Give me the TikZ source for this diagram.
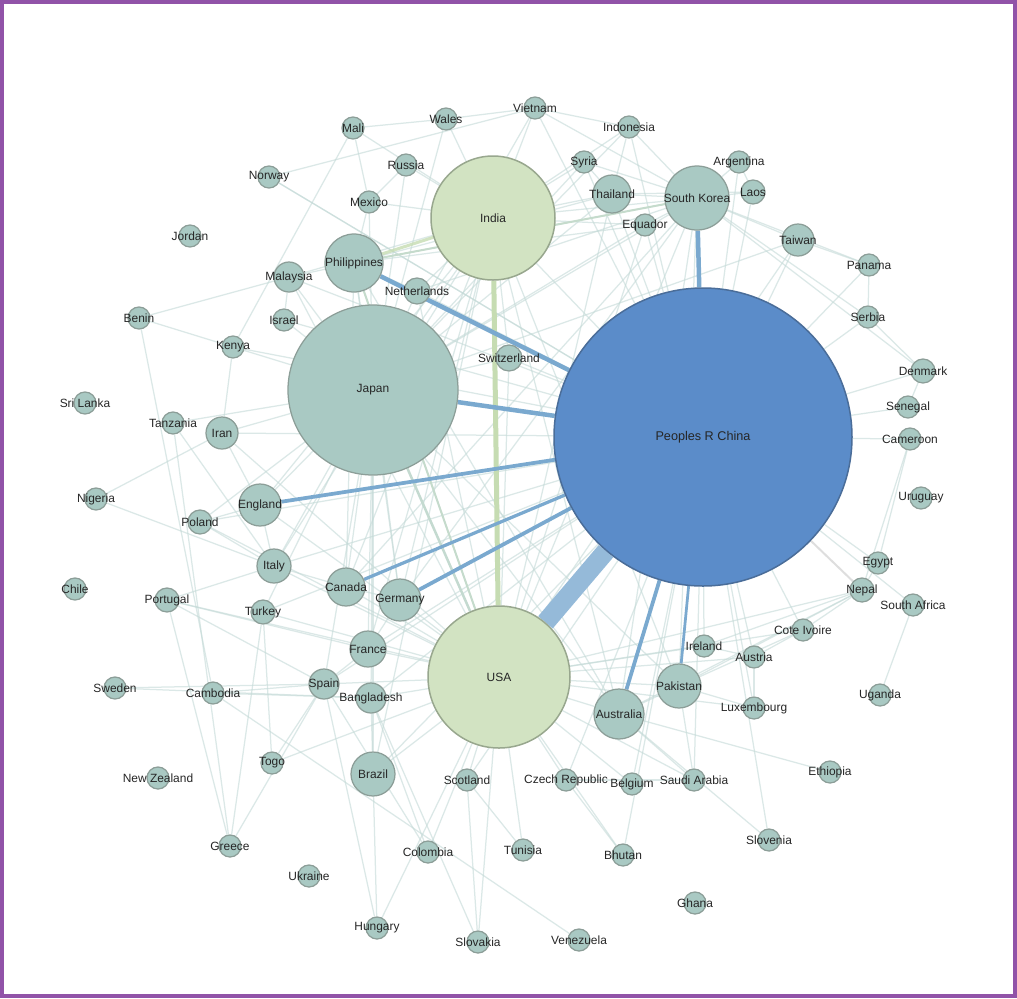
\documentclass[tikz,border=0pt]{standalone}
\usepackage{fontspec}
\setmainfont{Liberation Sans}
\definecolor{ndfill}{HTML}{A9C9C3}
\definecolor{ndline}{HTML}{8C9E98}
\definecolor{gnfill}{HTML}{D2E3C2}
\definecolor{gnline}{HTML}{98A78E}
\definecolor{cnfill}{HTML}{5B8CC9}
\definecolor{cnline}{HTML}{4A6D99}
\definecolor{edgec}{HTML}{C4DAD7}
\definecolor{blueedge}{HTML}{7AA9CF}
\definecolor{greenedge}{HTML}{C6DCB2}
\definecolor{frame}{HTML}{9153A8}
\pgfdeclarelayer{bg}
\pgfdeclarelayer{edges}
\pgfsetlayers{bg,edges,main}
\newcommand\cty[5][nd]{\node[#1=#5] (#2) at (#3) {};\node[lb] (#2-t) at (#2) {#4};}
\begin{document}
\begin{tikzpicture}[x=0.2mm,y=-0.2mm,
  nd/.style={circle,draw=ndline,fill=ndfill,line width=0.25mm,inner sep=0pt,minimum size={#1*0.4mm}},
  gn/.style={circle,draw=gnline,fill=gnfill,line width=0.3mm,inner sep=0pt,minimum size={#1*0.4mm}},
  cnn/.style={circle,draw=cnline,fill=cnfill,line width=0.3mm,inner sep=0pt,minimum size={#1*0.4mm}},
  lb/.style={inner sep=0pt,font=\fontsize{6.8}{7}\selectfont,text=black!85},
  e/.style={draw=edgec,line width=0.25mm,opacity=0.6},
  be/.style={draw=blueedge,line width=#1},
  ge/.style={draw=greenedge,line width=#1}]
\useasboundingbox (0,0) rectangle (1017,998);
\begin{pgfonlayer}{bg}
\fill[white] (0,0) rectangle (1017,998);
\draw[frame,line width=0.7mm] (2,2) rectangle (1015,996);
\end{pgfonlayer}
% nodes
\cty[cnn]{cn}{703,437}{\fontsize{7.2}{8}\selectfont Peoples R China}{149}
\cty{jp}{373,390}{Japan}{85}
\cty[gn]{usa}{499,677}{USA}{71}
\cty[gn]{ind}{493,218}{India}{62}
\cty{kr}{697,198}{South Korea}{32}
\cty{ph}{354,263}{Philippines}{29}
\cty{aus}{619,714}{Australia}{25}
\cty{pak}{679,686}{Pakistan}{22}
\cty{bra}{373,774}{Brazil}{22}
\cty{ger}{400,600}{Germany}{21}
\cty{can}{346,587}{Canada}{19}
\cty{fra}{368,649}{France}{18}
\cty{eng}{260,505}{England}{21}
\cty{ita}{274,566}{Italy}{17}
\cty{tur}{263,612}{Turkey}{12}
\cty{spa}{324,684}{Spain}{15}
\cty{ban}{371,698}{Bangladesh}{15}
\cty{cam}{213,693}{Cambodia}{11}
\cty{pol}{200,522}{Poland}{12}
\cty{tha}{612,194}{Thailand}{19}
\cty{iran}{222,433}{Iran}{16}
\cty{swi}{509,358}{Switzerland}{13}
\cty{net}{417,291}{Netherlands}{13}
\cty{mal}{289,277}{Malaysia}{15}
\cty{isr}{284,320}{Israel}{11}
\cty{tai}{798,240}{Taiwan}{16}
\cty{lao}{753,192}{Laos}{12}
\cty{arg}{739,162}{Argentina}{11}
\cty{pan}{869,265}{Panama}{11}
\cty{ser}{868,317}{Serbia}{11}
\cty{den}{923,371}{Denmark}{12}
\cty{sen}{908,407}{Senegal}{11}
\cty{came}{910,439}{Cameroon}{11}
\cty{uru}{921,498}{Uruguay}{11}
\cty{egy}{878,563}{Egypt}{11}
\cty{nep}{862,590}{Nepal}{12}
\cty{saf}{913,605}{South Africa}{11}
\cty{civ}{803,630}{Cote Ivoire}{11}
\cty{ire}{704,646}{Ireland}{11}
\cty{aut}{754,657}{Austria}{11}
\cty{lux}{754,708}{Luxembourg}{11}
\cty{uga}{880,695}{Uganda}{11}
\cty{eth}{830,772}{Ethiopia}{11}
\cty{sau}{694,780}{Saudi Arabia}{11}
\cty{slo}{769,840}{Slovenia}{11}
\cty{gha}{695,903}{Ghana}{11}
\cty{sco}{467,780}{Scotland}{11}
\cty{cze}{566,780}{Czech Republic}{11}
\cty{bel}{632,784}{Belgium}{11}
\cty{col}{428,852}{Colombia}{11}
\cty{tun}{523,850}{Tunisia}{11}
\cty{bhu}{623,855}{Bhutan}{11}
\cty{hun}{377,928}{Hungary}{11}
\cty{svk}{478,942}{Slovakia}{11}
\cty{ven}{579,940}{Venezuela}{11}
\cty{swe}{115,688}{Sweden}{11}
\cty{togo}{272,763}{Togo}{11}
\cty{nz}{158,778}{New Zealand}{11}
\cty{gre}{230,846}{Greece}{11}
\cty{ukr}{309,876}{Ukraine}{11}
\cty{sri}{85,403}{Sri Lanka}{11}
\cty{tan}{173,423}{Tanzania}{11}
\cty{nig}{96,499}{Nigeria}{11}
\cty{chi}{75,589}{Chile}{11}
\cty{por}{167,600}{Portugal}{12}
\cty{mali}{353,128}{Mali}{11}
\cty{nor}{269,177}{Norway}{11}
\cty{mex}{369,202}{Mexico}{11}
\cty{jor}{190,236}{Jordan}{11}
\cty{ben}{139,318}{Benin}{11}
\cty{ken}{233,347}{Kenya}{11}
\cty{wal}{446,119}{Wales}{11}
\cty{vie}{535,108}{Vietnam}{11}
\cty{ido}{629,127}{Indonesia}{11}
\cty{rus}{406,165}{Russia}{11}
\cty{syr}{584,162}{Syria}{11}
\cty{equ}{645,225}{Equador}{11}
% edges
\begin{pgfonlayer}{edges}
\foreach \b in {ind,kr,tha,tai,lao,arg,pan,ser,den,sen,came,egy,civ,ire,aut,lux,sau,bel,cze,fra,ita,spa,bra,ban,swi,net,equ,syr,ido,vie,iran,nor,mal,isr,ken,pol,tur,sco,bhu,saf,slo}
  \draw[e] (cn) -- (\b);
\foreach \b in {ph,kr,tha,fra,ger,can,eng,ita,spa,ban,bra,sco,cze,bel,col,tun,svk,aus,pak,sau,ire,aut,civ,nep,swi,net,tur,por,pol,iran,mal,equ,tai,hun,togo,bhu,lux}
  \draw[e] (usa) -- (\b);
\foreach \b in {ind,kr,tha,ph,net,swi,mal,isr,ken,iran,eng,ita,can,ger,fra,tur,pol,tan,mex,rus,wal,vie,equ,tai,aus,pak,spa,ban,bra,syr,ido}
  \draw[e] (jp) -- (\b);
\foreach \b in {kr,tha,syr,vie,wal,rus,mex,mali,equ,ido,eng,ger,can,fra,aus,pak,net,swi,mal,ita,bra}
  \draw[e] (ind) -- (\b);
\foreach \b in {tha,lao,arg,tai,pan,den,ser,ido,vie,equ,syr,ph,aus,pak,ger,can,net}
  \draw[e] (kr) -- (\b);
\foreach \b in {tha,equ,mal,net,mex,aus,can,ger}
  \draw[e] (ph) -- (\b);
\foreach \a/\b in {nor/vie,nor/cn,mali/ken,mali/mex,mali/wal,ben/mal,ben/ken,ben/cam,tan/gre,nig/iran,nig/ita,pol/ita,pol/eng,por/ita,por/fra,por/spa,swe/spa,swe/ban,cam/spa,cam/ban,togo/tur,togo/spa,gre/spa,gre/tur,gre/por,hun/bra,hun/spa,col/ban,col/spa,svk/sco,svk/ban,ven/cam,tun/sco,bhu/cze,sau/pak,sau/aus,sau/cze,slo/aus,eth/aus,lux/aut,lux/pak,uga/saf,nep/egy,nep/civ,nep/aus,nep/pak,nep/ire,nep/came,egy/came,pan/ser,ser/den,den/sen,tai/pan,lao/tha,arg/lao,ido/tha,vie/ido,syr/tha,wal/vie,rus/mex,eng/ita,eng/iran,ita/can,can/ger,fra/ger,fra/spa,ban/bra,aus/pak,ire/aut,civ/aut,civ/pak,ken/iran,isr/mal,tan/ita}
  \draw[e] (\a) -- (\b);
\draw[draw=black!25,line width=0.4mm,opacity=0.5] (cn) -- (nep);
\draw[ge=0.6mm,opacity=0.8] (ph) -- (ind);
\draw[ge=0.5mm,draw=edgec!80!greenedge] (jp) -- (usa);
\draw[ge=0.4mm,draw=edgec!70!greenedge] (ph) -- (usa);
\draw[ge=0.4mm,draw=edgec!70!greenedge] (ph) -- (kr);
\draw[ge=1mm] (ind) -- (usa);
\draw[be=3.8mm,draw=blueedge!80!white] (cn) -- (usa);
\draw[be=0.9mm] (cn) -- (jp);
\draw[be=0.9mm] (cn) -- (ph);
\draw[be=0.75mm] (cn) -- (eng);
\draw[be=0.65mm] (cn) -- (can);
\draw[be=0.75mm] (cn) -- (ger);
\draw[be=0.9mm] (cn) -- (kr);
\draw[be=0.75mm] (cn) -- (aus);
\draw[be=0.55mm] (cn) -- (pak);
\end{pgfonlayer}
\end{tikzpicture}
\end{document}
